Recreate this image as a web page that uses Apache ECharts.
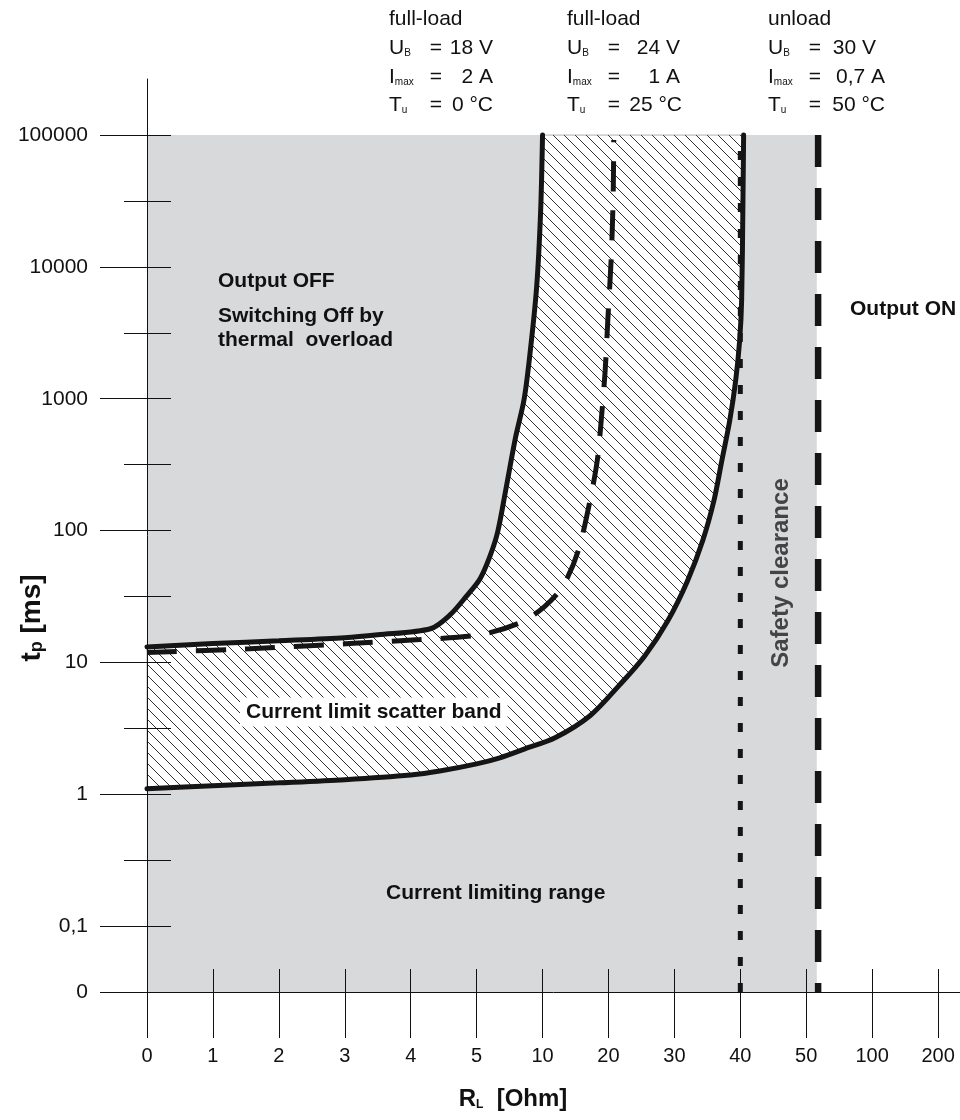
<!DOCTYPE html>
<html><head><meta charset="utf-8">
<script src="https://cdn.jsdelivr.net/npm/echarts@6/dist/echarts.min.js"></script>
<style>html,body{margin:0;padding:0;background:#fff}#c{width:960px;height:1120px}</style>
</head><body><div id="c"></div>
<script>
// ---- data ----
const rTicks = [0,1,2,3,4,5,10,20,30,40,50,100,200];
const rLabels = ['0','1','2','3','4','5','10','20','30','40','50','100','200'];
const tTickValues = [100000,10000,1000,100,10,1,0.1,0];
const tTickLabels = ['100000','10000','1000','100','10','1','0,1','0'];
const tMinorValues = [31623,3162,316,31.6,3.16,0.316];

const upperR = [0,1,2,3,3.5,4.3,4.6,4.85,5.25,6.0,6.6,7.2,7.95,8.6,9.05,9.55,9.85,10];
const upperT = [13.1,13.9,14.6,15.4,16.2,18.0,23,32,43,63.5,98,201,508,988,2210,7000,25600,100000];
const lowerR = [0,1,2,3,4,4.44,5,6.76,8.66,11.9,17.2,21.7,25.5,29.0,32.0,34.3,36.0,37.2,38.4,39.3,39.9,40.2,40.4,40.5];
const lowerT = [1.10,1.16,1.22,1.29,1.40,1.50,1.70,1.89,2.21,2.68,3.94,6.76,11.2,20.7,41.7,84,169,340,685,1380,2770,5580,32000,100000];
const midR = [0,1.56,3.07,4.14,5.25,8.3,10.3,13.1,15.4,17.2,18.3,18.9,19.5,19.9,20.4,20.7,20.8];
const midT = [11.9,12.7,13.9,14.9,16.2,20,26.5,38,70,169,340,685,1640,3940,11200,32000,91700];
const safetyR = [40, 40];
const safetyT = [0, 100000];
const unloadR = [59, 59];
const unloadT = [100000, 0];
const grayR = [0, 58];
const grayT = [0, 100000];

// ---- scale helpers (broken axes) ----
function xPos(r){
  for(let i=0;i<rTicks.length-1;i++){
    if(r<=rTicks[i+1]) return i+(r-rTicks[i])/(rTicks[i+1]-rTicks[i]);
  }
  return rTicks.length-1;
}
function yPos(t){ return t>0 ? Math.log10(t) : -1.5; }
function pairs(R,T){ return R.map((r,i)=>[xPos(r), yPos(T[i])]); }

const FONT = '"Liberation Sans", Arial, sans-serif';

// hatch pattern
const s = 11;
const pc = document.createElement('canvas'); pc.width = s; pc.height = s;
const g = pc.getContext('2d');
g.fillStyle = '#ffffff'; g.fillRect(0,0,s,s);
g.strokeStyle = '#333333'; g.lineWidth = 1;
g.beginPath();
g.moveTo(-1,-1); g.lineTo(s+1,s+1);
g.moveTo(s-2,-2); g.lineTo(s+2,2);
g.moveTo(-2,s-2); g.lineTo(2,s+2);
g.stroke();

const chart = echarts.init(document.getElementById('c'), null, {renderer:'canvas'});

const xMajor = rTicks.map((r)=>xPos(r));
const yMajor = tTickValues.map(yPos);
const yMinor = tMinorValues.map(yPos);
const yInner = yMajor.concat(yMinor).filter(v=>v>-1.5);

function xLabel(v){
  const i = Math.round(v);
  return Math.abs(v-i)<1e-6 && rLabels[i]!==undefined ? rLabels[i] : '';
}
function yLabel(v){
  for(let k=0;k<yMajor.length;k++) if(Math.abs(yMajor[k]-v)<1e-6) return tTickLabels[k];
  return '';
}

const X_MAX = (960-147.3)/65.9;
const Y_MAX = 5 + (135-79)/131.67;

const tickStyle = {color:'#111', width:1};

function colTexts(x0, valOff, head, vals, valShift){
  const rows = [48, 77, 105];
  const rich = {m:{fontSize:21, fontFamily:FONT, fill:'#111'}, s:{fontSize:10, fontFamily:FONT, fill:'#111', verticalAlign:'bottom'}};
  const labs = ['{m|U}{s|B}', '{m|I}{s|max}', '{m|T}{s|u}'];
  const out = [{type:'text', x:x0, y:19, z:100, style:{text:head, font:'21px '+FONT, fill:'#111', verticalAlign:'middle'}}];
  rows.forEach((y,i)=>{
    out.push({type:'text', x:x0, y:y, z:100, style:{text:labs[i], rich:rich, verticalAlign:'middle'}});
    out.push({type:'text', x:x0+47, y:y, z:100, style:{text:'=', font:'21px '+FONT, fill:'#111', align:'center', verticalAlign:'middle'}});
    out.push({type:'text', x:x0+valOff-(valShift[i]||0), y:y, z:100, style:{text:vals[i], font:'21px '+FONT, fill:'#111', align:'right', verticalAlign:'middle'}});
  });
  return out;
}

const graphics = [].concat(
  colTexts(389, 104, 'full-load', ['18 V','2 A','0 °C'], [0,0,0]),
  colTexts(567, 115, 'full-load', ['24 V','1 A','25 °C'], [2,2,0]),
  colTexts(768, 117, 'unload', ['30 V','0,7 A','50 °C'], [9,0,0]),
  [
    {type:'text', x:218, y:281, z:100, style:{text:'Output OFF', font:'bold 21px '+FONT, fill:'#111', verticalAlign:'middle'}},
    {type:'text', x:218, y:316, z:100, style:{text:'Switching Off by', font:'bold 21px '+FONT, fill:'#111', verticalAlign:'middle'}},
    {type:'text', x:218, y:340, z:100, style:{text:'thermal  overload', font:'bold 21px '+FONT, fill:'#111', verticalAlign:'middle'}},
    {type:'text', x:240, y:712, z:100, style:{text:'Current limit scatter band', font:'bold 21px '+FONT, fill:'#111', verticalAlign:'middle', backgroundColor:'#ffffff', padding:[4,6,4,6]}},
    {type:'text', x:386, y:893, z:100, style:{text:'Current limiting range', font:'bold 21px '+FONT, fill:'#111', verticalAlign:'middle'}},
    {type:'text', x:850, y:309, z:100, style:{text:'Output ON', font:'bold 21px '+FONT, fill:'#111', verticalAlign:'middle'}},
    {type:'text', x:781, y:573, z:100, rotation:Math.PI/2, style:{text:'Safety clearance', font:'bold 24px '+FONT, fill:'#444', align:'center', verticalAlign:'middle'}},
    {type:'text', x:32, y:618, z:100, rotation:Math.PI/2, style:{text:'{a|t}{b|p}{a| [ms]}', align:'center', verticalAlign:'middle',
      rich:{a:{fontSize:28, fontWeight:'bold', fontFamily:FONT, fill:'#111'}, b:{fontSize:18, fontWeight:'bold', fontFamily:FONT, fill:'#111', verticalAlign:'bottom'}}}},
    {type:'text', x:513, y:1099, z:100, style:{text:'{a|R}{b|L}{a|  [Ohm]}', align:'center', verticalAlign:'middle',
      rich:{a:{fontSize:24, fontWeight:'bold', fontFamily:FONT, fill:'#111'}, b:{fontSize:12, fontWeight:'bold', fontFamily:FONT, fill:'#111', verticalAlign:'bottom'}}}}
  ]
);

const option = {
  animation:false,
  backgroundColor:'#ffffff',
  grid:{left:147, right:0, top:79, bottom:128, containLabel:false, outerBoundsMode:'none'},
  xAxis:[
    {type:'value', position:'bottom', min:0, max:X_MAX, z:10,
     axisLine:{show:true, onZero:false, lineStyle:{color:'#111', width:1}},
     axisTick:{show:true, inside:false, length:46, customValues:xMajor, lineStyle:tickStyle},
     axisLabel:{show:true, customValues:xMajor, formatter:xLabel, margin:54, fontSize:20, fontFamily:FONT, color:'#111'},
     splitLine:{show:false}},
    {type:'value', position:'bottom', min:0, max:X_MAX, z:10,
     axisLine:{show:false, onZero:false},
     axisTick:{show:true, inside:true, length:23, customValues:xMajor.slice(1), lineStyle:tickStyle},
     axisLabel:{show:false}, splitLine:{show:false}}
  ],
  yAxis:[
    {type:'value', position:'left', min:-1.5, max:Y_MAX, z:10, offset:0,
     axisLine:{show:true, onZero:false, lineStyle:{color:'#111', width:1}},
     axisTick:{show:true, inside:false, length:47, customValues:yMajor, lineStyle:tickStyle},
     axisLabel:{show:true, customValues:yMajor, formatter:yLabel, margin:59, fontSize:21, fontFamily:FONT, color:'#111'},
     splitLine:{show:false}},
    {type:'value', position:'left', min:-1.5, max:Y_MAX, z:10, offset:0,
     axisLine:{show:false, onZero:false},
     axisTick:{show:true, inside:false, length:23, customValues:yMinor, lineStyle:tickStyle},
     axisLabel:{show:false}, splitLine:{show:false}},
    {type:'value', position:'left', min:-1.5, max:Y_MAX, z:10, offset:0,
     axisLine:{show:false, onZero:false},
     axisTick:{show:true, inside:true, length:24, customValues:yInner, lineStyle:tickStyle},
     axisLabel:{show:false}, splitLine:{show:false}}
  ],
  series:[
    {type:'custom', xAxisIndex:0, yAxisIndex:0, z:1, silent:true, data:[0],
     renderItem:(p, api)=>{
       const a = api.coord([xPos(grayR[0]), yPos(grayT[1])]);
       const b = api.coord([xPos(grayR[1]), yPos(grayT[0])]);
       return {type:'rect', shape:{x:a[0], y:a[1], width:b[0]-a[0], height:b[1]-a[1]}, style:{fill:'#d8d9da'}};
     }},
    {type:'custom', xAxisIndex:0, yAxisIndex:0, z:2, silent:true, data:[0],
     renderItem:(p, api)=>{
       const pts = pairs(upperR, upperT).map(q=>api.coord(q));
       const low = pairs(lowerR, lowerT).map(q=>api.coord(q)).reverse();
       return {type:'polygon', shape:{points:pts.concat(low)}, style:{fill:{image:pc, repeat:'repeat'}, stroke:'#777', lineWidth:0.6}};
     }},
    {type:'line', xAxisIndex:0, yAxisIndex:0, z:5, silent:true, symbol:'none', smooth:0.3,
     data:pairs(upperR, upperT), lineStyle:{color:'#151515', width:5, cap:'round'}},
    {type:'line', xAxisIndex:0, yAxisIndex:0, z:5, silent:true, symbol:'none', smooth:0.3,
     data:pairs(lowerR, lowerT), lineStyle:{color:'#151515', width:5, cap:'round'}},
    {type:'line', xAxisIndex:0, yAxisIndex:0, z:5, silent:true, symbol:'none', smooth:0.3,
     data:pairs(midR, midT), lineStyle:{color:'#151515', width:5, type:[30,19], cap:'butt'}},
    {type:'line', xAxisIndex:0, yAxisIndex:0, z:5, silent:true, symbol:'none',
     data:pairs(safetyR, safetyT), lineStyle:{color:'#151515', width:5, type:[9,17], cap:'butt'}},
    {type:'line', xAxisIndex:0, yAxisIndex:0, z:5, silent:true, symbol:'none',
     data:pairs(unloadR, unloadT), lineStyle:{color:'#151515', width:6.5, type:[32,21], cap:'butt'}}
  ],
  graphic:graphics
};
chart.setOption(option);
</script></body></html>
